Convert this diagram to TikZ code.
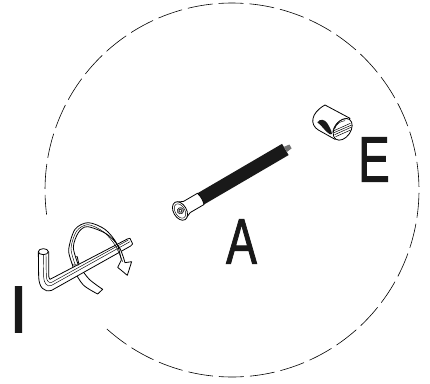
\documentclass[tikz,border=0pt]{standalone}
\usepackage{fontspec}
\setmainfont{Liberation Sans}
\newfontfamily\heavyfont[FakeBold=1.6]{Liberation Sans}
\tikzset{
  letter/.style={inner sep=0pt,font=\heavyfont\fontsize{64}{64}\selectfont,text=black!90},
  ln/.style={line width=0.8pt,line join=round},
  fine/.style={line width=0.45pt},
  zoomA/.style={shift={(0,210)},x=0.3333pt,y=-0.3333pt},
  zoomB/.style={shift={(290,90)},x=0.3333pt,y=-0.3333pt}
}
\begin{document}
\begin{tikzpicture}[x=1pt,y=-1pt]
\useasboundingbox (0,0) rectangle (430,383);
% dashed circle
\draw[line width=0.6pt,dash pattern=on 25pt off 6pt] plot[domain=228:547.6,samples=240,smooth] ({232+187*cos(\x)},{190-187*sin(\x)});
% bolt
\begin{scope}[shift={(180,211)},rotate=30.3]
  \fill[black!90] (24,-6.5) -- (122,-6.5) -- (122,6.5) -- (24,6.5) -- cycle;
  \fill[black!55] (122,-3) -- (128,-2.2) -- (128,2.2) -- (122,3) -- cycle;
  \draw[ln,fill=white] (0,-10) -- (8,-6.5) -- (24,-6.5) to[bend left=15] (24,6.5) -- (8,6.5) -- (0,10) -- cycle;
  \draw[ln,fill=white] (0,0) ellipse (6.5 and 10);
  \draw[fine] (0,0) ellipse (4.8 and 7.8);
  \draw[fine,fill=black!35] (0.5,0) circle (3.2);
  \draw[fine,fill=white] (0.5,0) circle (1.6);
\end{scope}
% ribbon lower part (behind the key)
\begin{scope}[zoomA]
  \draw[ln,fill=white] plot[smooth] coordinates {(293,252) (250,225) (222,180) (212,140)} -- plot[smooth] coordinates {(232,140) (240,170) (268,208) (308,238)} -- cycle;
  % hex key
  \draw[ln,fill=white] (115,125) -- (116,200) .. controls (117,232) and (132,248) .. (155,241) -- (392,108) -- (398,102) -- (390,85) -- (382,87) -- (150,208) .. controls (147,205) and (146,200) .. (146,195) -- (146,125) -- cycle;
  \draw[ln,fill=white] (130,125) ellipse (15 and 9);
  \draw[fine] (130,134) -- (131,200) .. controls (132,222) and (142,232) .. (155,226) -- (390,95);
  \draw[fine] (138,134) -- (139,200) .. controls (140,212) and (146,220) .. (155,217) -- (385,90);
  % ribbon upper part (in front of the key)
  \draw[ln,fill=white] plot[smooth] coordinates {(218,165) (206,120) (225,58) (265,38) (315,58) (350,100) (364,150)} -- (353,172) -- (382,196) -- (395,155) -- (375,158) -- plot[smooth] coordinates {(375,158) (358,112) (320,72) (262,50) (235,68) (220,112) (235,165)} -- cycle;
  \draw[fine] plot[smooth] coordinates {(226,165) (213,115) (230,63) (264,44) (310,65) (345,105) (368,155)};
\end{scope}
% cam dowel
\begin{scope}[zoomB]
  \draw[ln,fill=white] (105,45) -- (180,85) -- (135,148) -- (85,120) .. controls (60,105) and (60,70) .. (105,45) -- cycle;
  \fill[black!90] (82,97) .. controls (90,85) and (105,88) .. (112,100) .. controls (118,110) and (125,122) .. (126,132) -- (120,133) .. controls (105,125) and (95,105) .. (82,97) -- cycle;
  \draw[ln,fill=white] (158,118) ellipse [x radius=36,y radius=24,rotate=55];
  \draw[fine] (128,128) .. controls (130,105) and (150,85) .. (172,86);
  \draw[fine] (134,116) .. controls (139,102) and (150,94) .. (165,92);
  \draw[line width=0.5pt] (132,122) -- (181,100);
  \draw[line width=0.5pt] (132,128) -- (185,105);
  \draw[line width=0.5pt] (134,134) -- (185,111);
  \draw[line width=0.5pt] (137,140) -- (182,120);
\end{scope}
% letters
\node[letter,xscale=0.72] (labelA) at (241.5,241.5) {A};
\node[letter,xscale=0.74] (labelE) at (374,159.5) {E};
\node[letter,xscale=1.05,yscale=1.04] (labelI) at (18.5,309.5) {I};
\end{tikzpicture}
\end{document}
